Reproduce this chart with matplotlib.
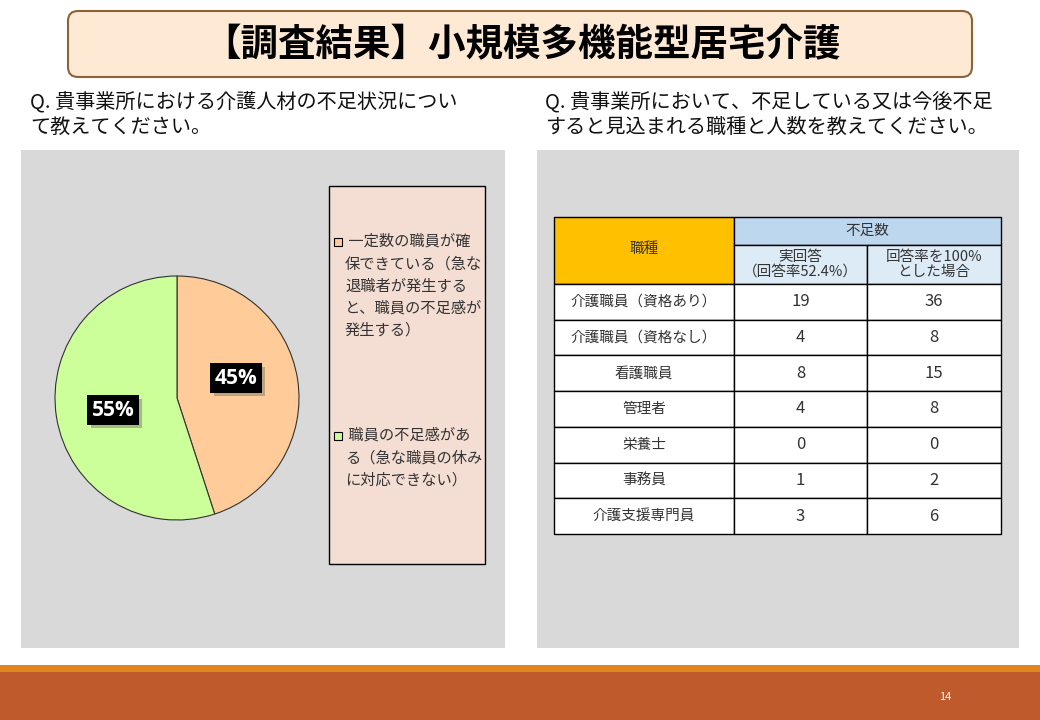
import matplotlib
matplotlib.use("Agg")
import matplotlib.pyplot as plt
from matplotlib.patches import Rectangle, FancyBboxPatch
import matplotlib.patheffects as pe

plt.rcParams['font.family'] = ['Noto Sans CJK JP', 'DejaVu Sans']

# ---- data ----
title = "【調査結果】小規模多機能型居宅介護"
q_left = "Q. 貴事業所における介護人材の不足状況につい\nて教えてください。"
q_right = "Q. 貴事業所において、不足している又は今後不足\nすると見込まれる職種と人数を教えてください。"
pie_labels = ["一定数の職員が確\n保できている（急な\n退職者が発生する\nと、職員の不足感が\n発生する）",
              "職員の不足感があ\nる（急な職員の休み\nに対応できない）"]
pie_values = [45, 55]
pie_colors = ["#FFCC99", "#CCFF99"]
jobs = ["介護職員（資格あり）", "介護職員（資格なし）", "看護職員", "管理者", "栄養士", "事務員", "介護支援専門員"]
actual = [19, 4, 8, 4, 0, 1, 3]
scaled = [36, 8, 15, 8, 0, 2, 6]
header_job = "職種"
header_short = "不足数"
sub_headers = ["実回答\n（回答率52.4%）", "回答率を100%\nとした場合"]
page_no = "14"

W, H = 1040, 720
fig = plt.figure(figsize=(W / 100, H / 100), dpi=100)
ax = fig.add_axes([0, 0, 1, 1])
ax.set_xlim(0, W)
ax.set_ylim(H, 0)
ax.axis('off')

# title box
ax.add_patch(FancyBboxPatch((68, 11), 904, 66, boxstyle="round,pad=0,rounding_size=10",
                            facecolor="#FDE9D4", edgecolor="#8C6239", linewidth=1.5))
ax.text(522, 45, title, fontsize=27, fontweight='bold', ha='center', va='center', color='black')

# questions
ax.text(30, 115, q_left, fontsize=14.5, ha='left', va='center', linespacing=1.2, color='#111111')
ax.text(545, 115, q_right, fontsize=14.5, ha='left', va='center', linespacing=1.2, color='#111111')

# panels
ax.add_patch(Rectangle((21, 150), 484, 498, facecolor="#D9D9D9", edgecolor='none'))
ax.add_patch(Rectangle((537, 150), 482, 498, facecolor="#D9D9D9", edgecolor='none'))

# legend box
ax.add_patch(Rectangle((329, 186), 156, 378, facecolor="#F4DED3", edgecolor='black', linewidth=1))
leg_y = [242, 436]
for i, (lab, col) in enumerate(zip(pie_labels, pie_colors)):
    ax.add_patch(Rectangle((334, leg_y[i] - 4), 8, 8, facecolor=col, edgecolor='black', linewidth=0.8))
    ax.text(345, leg_y[i] - 9, " " + lab, fontsize=11, ha='left', va='top', color='#333333',
            linespacing=1.4)

# footer
ax.add_patch(Rectangle((0, 665), W, 8, facecolor="#E0861E", edgecolor='none'))
ax.add_patch(Rectangle((0, 672), W, 48, facecolor="#BE5A2C", edgecolor='none'))
ax.text(945, 697, page_no, fontsize=8, color='white', ha='center', va='center')

# pie
cx, cy, r = 177, 398, 122
pax = fig.add_axes([(cx - r) / W, (H - cy - r) / H, 2 * r / W, 2 * r / H])
wedges, _ = pax.pie(pie_values, colors=pie_colors, startangle=90, counterclock=False,
                    wedgeprops=dict(edgecolor='#333333', linewidth=0.8))
pax.set_xlim(-1, 1)
pax.set_ylim(-1, 1)
pax.set_aspect('equal')
pax.axis('off')
label_pos = [(236, 378), (113, 410)]
for v, (lx, ly) in zip(pie_values, label_pos):
    t = pax.text(lx, ly, f"{v}%", transform=ax.transData, clip_on=False,
                 fontsize=15, fontweight='bold', color='white', ha='center', va='center',
                 family=['Open Sans', 'DejaVu Sans'],
                 bbox=dict(boxstyle='square,pad=0.2', facecolor='black', edgecolor='none'), zorder=5)
    t.get_bbox_patch().set_path_effects([
        pe.withSimplePatchShadow(offset=(2.5, -2.5), shadow_rgbFace='#7a7a6a', alpha=0.5)])

# table
cols = [554, 734, 867, 1001]
y0, y1, y2 = 217, 245, 284
row_h = (534 - y2) / len(jobs)
lw = 1.0
ax.add_patch(Rectangle((cols[0], y0), cols[1] - cols[0], y2 - y0, facecolor="#FFC000", edgecolor='black', linewidth=lw))
ax.add_patch(Rectangle((cols[1], y0), cols[3] - cols[1], y1 - y0, facecolor="#BDD7EE", edgecolor='black', linewidth=lw))
ax.add_patch(Rectangle((cols[1], y1), cols[2] - cols[1], y2 - y1, facecolor="#DDEBF7", edgecolor='black', linewidth=lw))
ax.add_patch(Rectangle((cols[2], y1), cols[3] - cols[2], y2 - y1, facecolor="#DDEBF7", edgecolor='black', linewidth=lw))
tfs = 10.5
ax.text((cols[0] + cols[1]) / 2, (y0 + y2) / 2 - 2, header_job, fontsize=tfs, ha='center', va='center', color='#333333')
ax.text((cols[1] + cols[3]) / 2, (y0 + y1) / 2, header_short, fontsize=tfs, ha='center', va='center', color='#333333')
for i, sh in enumerate(sub_headers):
    ax.text((cols[1 + i] + cols[2 + i]) / 2, (y1 + y2) / 2, sh, fontsize=tfs, ha='center', va='center',
            color='#333333', linespacing=1.05)
for i, (j, a, s) in enumerate(zip(jobs, actual, scaled)):
    ytop = y2 + i * row_h
    for c in range(3):
        ax.add_patch(Rectangle((cols[c], ytop), cols[c + 1] - cols[c], row_h, facecolor='white',
                               edgecolor='black', linewidth=lw))
    ym = ytop + row_h / 2
    ax.text((cols[0] + cols[1]) / 2, ym, j, fontsize=tfs, ha='center', va='center', color='#333333')
    ax.text((cols[1] + cols[2]) / 2, ym, str(a), fontsize=tfs + 1.5, ha='center', va='center', color='#333333')
    ax.text((cols[2] + cols[3]) / 2, ym, str(s), fontsize=tfs + 1.5, ha='center', va='center', color='#333333')

fig.savefig("out.png", dpi=100)
